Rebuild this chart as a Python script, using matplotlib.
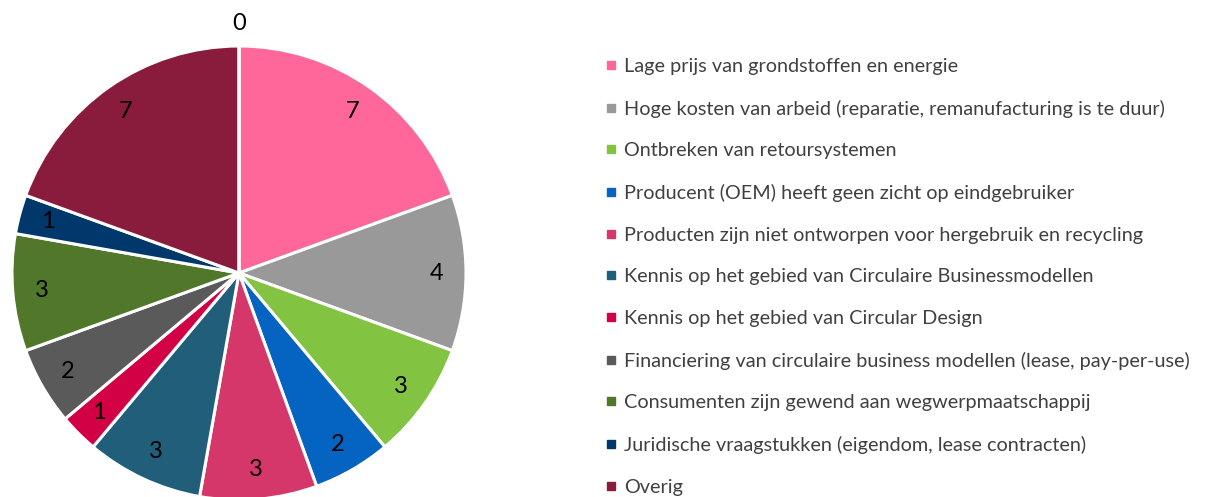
import matplotlib.pyplot as plt
from matplotlib.lines import Line2D

plt.rcParams['font.family'] = ['Lato', 'DejaVu Sans']

categories = [
    'Lage prijs van grondstoffen en energie',
    'Hoge kosten van arbeid (reparatie, remanufacturing is te duur)',
    'Ontbreken van retoursystemen',
    'Producent (OEM) heeft geen zicht op eindgebruiker',
    'Producten zijn niet ontworpen voor hergebruik en recycling',
    'Kennis op het gebied van Circulaire Businessmodellen',
    'Kennis op het gebied van Circular Design',
    'Financiering van circulaire business modellen (lease, pay-per-use)',
    'Consumenten zijn gewend aan wegwerpmaatschappij',
    'Juridische vraagstukken (eigendom, lease contracten)',
    'Overig',
    '',  # zero slice, its legend entry falls outside the picture
]
values = [7, 4, 3, 2, 3, 3, 1, 2, 3, 1, 7, 0]
colors = ['#FF6699', '#999999', '#82C341', '#0563C1', '#D6376B', '#215E7A',
          '#D20045', '#5A5A5A', '#50772A', '#00386B', '#891B3D', '#C0C0C0']

W, H = 1205, 497
fig = plt.figure(figsize=(W / 100, H / 100), dpi=100)
cx, cy, r = 239, 273, 227
ax = fig.add_axes([(cx - r) / W, (H - cy - r) / H, 2 * r / W, 2 * r / H])

wedges, texts = ax.pie(values, colors=colors, startangle=90, counterclock=False,
                       labels=[str(v) for v in values], labeldistance=0.87,
                       wedgeprops=dict(edgecolor='white', linewidth=2.2),
                       textprops=dict(fontsize=17, color='black'))
for t in texts:
    t.set_ha('center')
    t.set_va('center')
# the zero slice label sits outside the pie
x, y = texts[-1].get_position()
texts[-1].set_position((x / 0.87 * 1.1, y / 0.87 * 1.1))

ax.set_xlim(-1, 1)
ax.set_ylim(-1, 1)
ax.set_aspect('equal')
ax.axis('off')

handles = [Line2D([], [], marker='s', linestyle='none', markersize=5.5,
                  markerfacecolor=c, markeredgecolor=c)
           for c, name in zip(colors, categories) if name]
labels = [name for name in categories if name]
leg = fig.legend(handles, labels, loc='upper left', bbox_to_anchor=(606 / W, 1 - 58 / H),
                 frameon=False, fontsize=14.3, labelspacing=1.24, handlelength=0.55,
                 handletextpad=0.35, borderpad=0, borderaxespad=0)
for t in leg.get_texts():
    t.set_color('#404040')

fig.savefig('out.png', dpi=100)
